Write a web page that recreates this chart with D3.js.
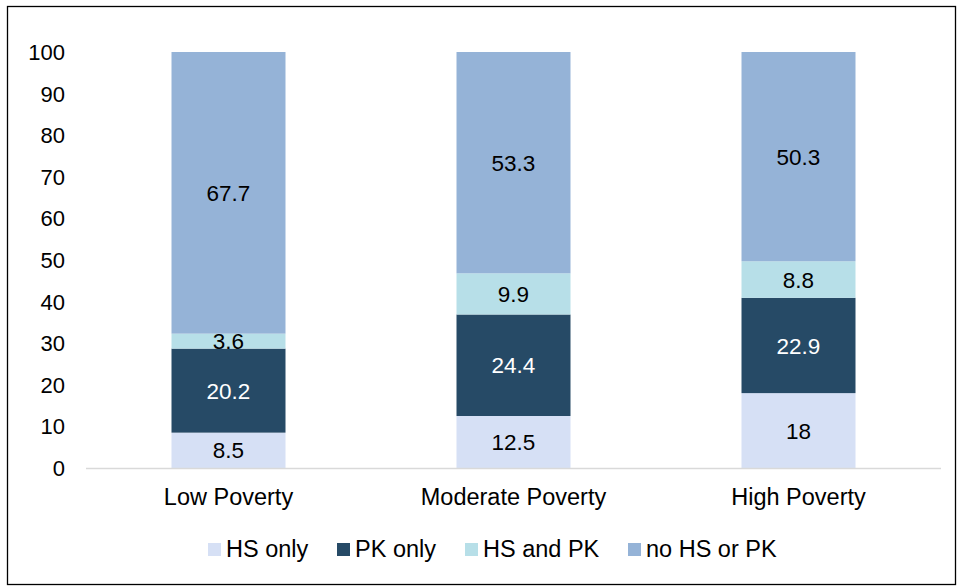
<!DOCTYPE html>
<html>
<head>
<meta charset="utf-8">
<script src="https://cdn.jsdelivr.net/npm/d3@7"></script>
<style>
  body { margin: 0; background: #fff; }
  text { font-family: "Liberation Sans", Arial, sans-serif; }
</style>
</head>
<body>
<div id="chart"></div>
<script>
// chart data
const categories = ['Low Poverty', 'Moderate Poverty', 'High Poverty'];
const series = ['HS only', 'PK only', 'HS and PK', 'no HS or PK'];
const hs_only = [8.5, 12.5, 18];
const pk_only = [20.2, 24.4, 22.9];
const hs_and_pk = [3.6, 9.9, 8.8];
const no_hs_or_pk = [67.7, 53.3, 50.3];
const y_ticks = [0, 10, 20, 30, 40, 50, 60, 70, 80, 90, 100];

const C = {
  width: 961,
  height: 586,
  margin: {left: 86, right: 20, top: 52, bottom: 118},
  colors: ['#d6e0f5', '#264a66', '#b7dfe8', '#95b3d7'],
  label_colors: ['#000', '#fff', '#000', '#000'],
  tick_font: 22,
  value_font: 22.5,
  cat_font: 23.5,
  legend_font: 23.5,
};

const svg = d3.select('#chart').append('svg')
  .attr('width', C.width)
  .attr('height', C.height);

// outer frame
svg.append('rect')
  .attr('x', 7.5).attr('y', 6.5)
  .attr('width', 948).attr('height', 578)
  .attr('fill', 'none')
  .attr('stroke', '#000')
  .attr('stroke-width', 1.3);

const X = d3.scaleBand()
  .domain(categories)
  .range([C.margin.left, C.width - C.margin.right])
  .paddingInner(0.6)
  .paddingOuter(0.3);

const Y = d3.scaleLinear()
  .domain([0, 100])
  .range([C.height - C.margin.bottom, C.margin.top]);

// build rows for the stack
const rows = categories.map((cat, i) => ({
  cat,
  'HS only': hs_only[i],
  'PK only': pk_only[i],
  'HS and PK': hs_and_pk[i],
  'no HS or PK': no_hs_or_pk[i],
}));

const stacked = d3.stack().keys(series)(rows);

const layers = svg.selectAll('g.layer')
  .data(stacked)
  .join('g')
  .attr('class', 'layer')
  .attr('fill', (d, i) => C.colors[i]);

layers.selectAll('rect')
  .data(d => d)
  .join('rect')
  .attr('x', d => X(d.data.cat))
  .attr('width', X.bandwidth())
  .attr('y', d => Y(Math.min(d[1], 100)))
  .attr('height', d => Y(d[0]) - Y(Math.min(d[1], 100)));

// value labels
stacked.forEach((layer, li) => {
  svg.append('g').selectAll('text')
    .data(layer)
    .join('text')
    .attr('x', d => X(d.data.cat) + X.bandwidth() / 2)
    .attr('y', d => (Y(d[0]) + Y(Math.min(d[1], 100))) / 2)
    .attr('dy', '0.36em')
    .attr('text-anchor', 'middle')
    .attr('font-size', C.value_font)
    .attr('fill', C.label_colors[li])
    .text(d => d.data[layer.key]);
});

// y axis labels (no line)
svg.append('g').selectAll('text')
  .data(y_ticks)
  .join('text')
  .attr('x', 65)
  .attr('y', d => Y(d))
  .attr('dy', '0.36em')
  .attr('text-anchor', 'end')
  .attr('font-size', C.tick_font)
  .attr('fill', '#000')
  .text(d => d);

// x axis baseline
svg.append('line')
  .attr('x1', C.margin.left).attr('x2', C.width - C.margin.right)
  .attr('y1', Y(0) + 0.5).attr('y2', Y(0) + 0.5)
  .attr('stroke', '#d9d9d9')
  .attr('stroke-width', 1.5);

// category labels
svg.append('g').selectAll('text')
  .data(categories)
  .join('text')
  .attr('x', d => X(d) + X.bandwidth() / 2)
  .attr('y', 505)
  .attr('text-anchor', 'middle')
  .attr('font-size', C.cat_font)
  .attr('fill', '#000')
  .text(d => d);

// legend
const legend_x = [208, 337, 465, 628];
const legend = svg.append('g').selectAll('g')
  .data(series)
  .join('g')
  .attr('transform', (d, i) => `translate(${legend_x[i]},543)`);

legend.append('rect')
  .attr('width', 13).attr('height', 13)
  .attr('fill', (d, i) => C.colors[i]);

legend.append('text')
  .attr('x', 18)
  .attr('y', 14)
  .attr('font-size', C.legend_font)
  .attr('fill', '#000')
  .text(d => d);
</script>
</body>
</html>
